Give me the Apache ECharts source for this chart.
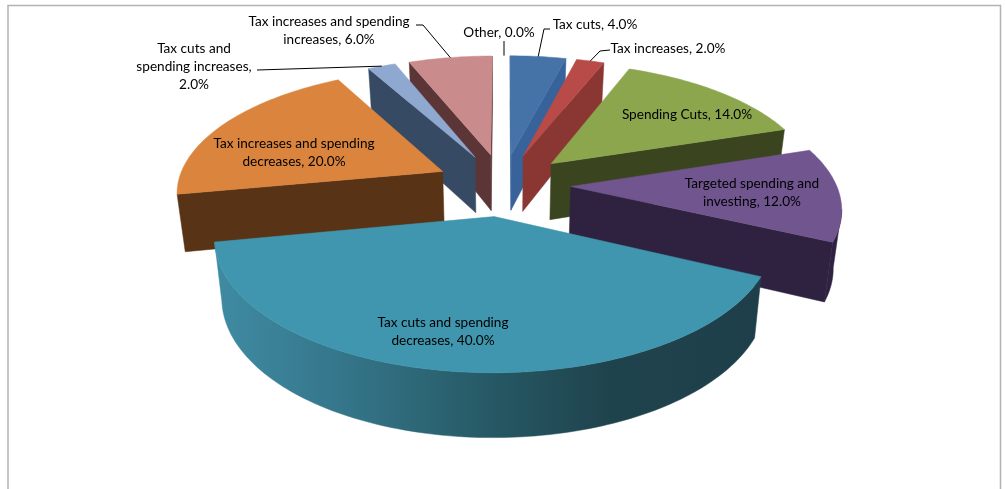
<!DOCTYPE html>
<html>
<head>
<meta charset="utf-8">
<style>html,body{margin:0;padding:0;background:#fff}#chart{width:1005px;height:489px}</style>
<script src="https://cdn.jsdelivr.net/npm/echarts@6/dist/echarts.min.js"></script>
</head>
<body>
<div id="chart"></div>
<script>
// Policy mixes, in percent, clockwise from twelve o'clock.
var categories = ['Tax cuts', 'Tax increases', 'Spending Cuts', 'Targeted spending and investing',
  'Tax cuts and spending decreases', 'Tax increases and spending decreases',
  'Tax cuts and spending increases', 'Tax increases and spending increases', 'Other'];
var shares = [4, 2, 14, 12, 40, 20, 2, 6, 0];

var topColors = ['#4572a7', '#b84b48', '#8ca64e', '#70558f', '#3f96ae', '#da843d', '#8fa8d0', '#c98b8b', '#999999'];
var wallColors = ['#37639a', '#8a3632', '#3a441f', '#2e2240', '#1e3f49', '#593316', '#374a63', '#5c3536', '#666666'];

// Back-to-front painting order of the exploded slices.
var paintOrder = [7, 6, 0, 1, 2, 5, 3, 4];

// Text of each label, broken the way it is set, plus its placement.
var labelLines = [
  ['Tax cuts, 4.0%'], ['Tax increases, 2.0%'], ['Spending Cuts, 14.0%'],
  ['Targeted spending and', 'investing, 12.0%'], ['Tax cuts and spending', 'decreases, 40.0%'],
  ['Tax increases and spending', 'decreases, 20.0%'], ['Tax cuts and', 'spending increases,', '2.0%'],
  ['Tax increases and spending', 'increases, 6.0%'], ['Other, 0.0%']
];
var labelCentres = [[595, 25], [668, 49], [687, 115], [752, 193], [443, 332], [294, 153], [194, 67], [329, 31], [499, 33]];
// Leader elbows run from a point beside the label to the slice rim.
var leaderStarts = [[[550, 29], [544, 29]], [[610, 50], [600, 51]], null, null, null, null,
  [[257, 70]], [[416, 25], [423, 25]], [[504, 41]]];

// Projection of the tilted disc: one radius is 1, explode is the slice offset.
var view = { cx: 503, cy: 184.5, rx: 265.5, ry: 122, kx: 0.15, ky: 0.15, explode: 0.255, drop: 57, shrink: 0.025 };

var total = shares.reduce(function (a, b) { return a + b; }, 0);
var spans = [];
shares.reduce(function (acc, s, i) {
  var end = acc + s / total * 2 * Math.PI;
  spans[i] = [acc, end];
  return end;
}, 0);

function project(u, v, h) {
  var x = view.cx + view.rx * u / (1 + view.kx * v);
  var y = view.cy - view.ry * v / (1 + view.ky * v);
  return [view.cx + (x - view.cx) * (1 - view.shrink * h), y + h * view.drop * (1 - 0.11 * v)];
}
function slicePoint(i, theta, r, h) {
  var mid = (spans[i][0] + spans[i][1]) / 2;
  return project(view.explode * Math.sin(mid) + r * Math.sin(theta),
                 view.explode * Math.cos(mid) + r * Math.cos(theta), h);
}
function quad(a, b, c, d, fill) {
  return { type: 'polygon', shape: { points: [a, b, c, d] }, style: { fill: fill, stroke: fill, lineWidth: 0.5 } };
}
var tealShade = {
  type: 'linear', x: 215, y: 0, x2: 763, y2: 0, global: true,
  colorStops: [
    { offset: 0, color: '#3f8ba3' }, { offset: 0.25, color: '#347488' },
    { offset: 0.52, color: '#255762' }, { offset: 0.72, color: '#1f434d' }, { offset: 1, color: '#1e3f49' }
  ]
};

function renderSlice(params, api) {
  var i = api.value(0);
  var a0 = spans[i][0], a1 = spans[i][1];
  var steps = Math.max(4, Math.round((a1 - a0) / 0.02));
  var apex = slicePoint(i, a0, 0, 0), apexLow = slicePoint(i, a0, 0, 1);
  var rim = [], rimLow = [];
  for (var k = 0; k <= steps; k++) {
    var t = a0 + (a1 - a0) * k / steps;
    rim.push(slicePoint(i, t, 1, 0));
    rimLow.push(slicePoint(i, t, 1, 1));
  }
  var wall = wallColors[i], kids = [];
  var first = rim[0], last = rim[steps];
  if (first[0] < apex[0]) kids.push(quad(apex, first, rimLow[0], apexLow, wall));
  if (apex[0] < last[0]) kids.push(quad(last, apex, apexLow, rimLow[steps], wall));

  // Outer wall: only the stretch of rim running leftward faces the viewer.
  var upper = [], lower = [];
  for (var m = 0; m < steps; m++) {
    if (rim[m + 1][0] < rim[m][0]) {
      if (!upper.length) { upper.push(rim[m]); lower.push(rimLow[m]); }
      upper.push(rim[m + 1]); lower.push(rimLow[m + 1]);
    }
  }
  if (upper.length) {
    var shade = i === 4 ? tealShade : wall;
    kids.push({
      type: 'polygon', shape: { points: upper.concat(lower.reverse()) },
      style: { fill: shade, stroke: shade, lineWidth: 0.5 }
    });
  }
  kids.push({
    type: 'polygon', shape: { points: [apex].concat(rim) },
    style: { fill: topColors[i], stroke: topColors[i], lineWidth: 0.5 }
  });
  return { type: 'group', children: kids };
}

function renderLabel(params, api) {
  var i = api.value(0), kids = [], centre = labelCentres[i], lines = labelLines[i];
  if (leaderStarts[i]) {
    var mid = (spans[i][0] + spans[i][1]) / 2;
    // Leaders reach the middle of the rim, stopping on its outer edge.
    var tip = slicePoint(i, mid, 1, 0);
    if (shares[i] === 0) tip = [leaderStarts[i][0][0], tip[1]];
    kids.push({
      type: 'polyline', shape: { points: leaderStarts[i].concat([tip]) },
      style: { fill: 'none', stroke: '#000', lineWidth: 1 }
    });
  }
  lines.forEach(function (line, n) {
    kids.push({
      type: 'text',
      style: {
        text: line, x: centre[0], y: centre[1] + (n - (lines.length - 1) / 2) * 18,
        align: 'center', verticalAlign: 'middle', fill: '#000',
        font: '13.6px Lato, "Open Sans", sans-serif'
      }
    });
  });
  return { type: 'group', children: kids };
}

var chart = echarts.init(document.getElementById('chart'), null, { renderer: 'canvas' });
chart.setOption({
  animation: false,
  backgroundColor: '#ffffff',
  graphic: [{
    type: 'polyline', silent: true, z: 0,
    shape: { points: [[8, 489], [8, 5.5], [1000.5, 5.5], [1000.5, 489]] },
    style: { fill: 'none', stroke: '#b2b2b2', lineWidth: 1.5 }
  }],
  series: [{
    type: 'custom', coordinateSystem: 'none', z: 2, silent: true,
    renderItem: renderSlice,
    encode: { value: 0 },
    data: paintOrder.map(function (i) { return { name: categories[i], value: [i, shares[i]] }; })
  }, {
    type: 'custom', coordinateSystem: 'none', z: 3, silent: true,
    renderItem: renderLabel,
    data: categories.map(function (c, i) { return { name: c, value: [i, shares[i]] }; })
  }]
});
</script>
</body>
</html>
